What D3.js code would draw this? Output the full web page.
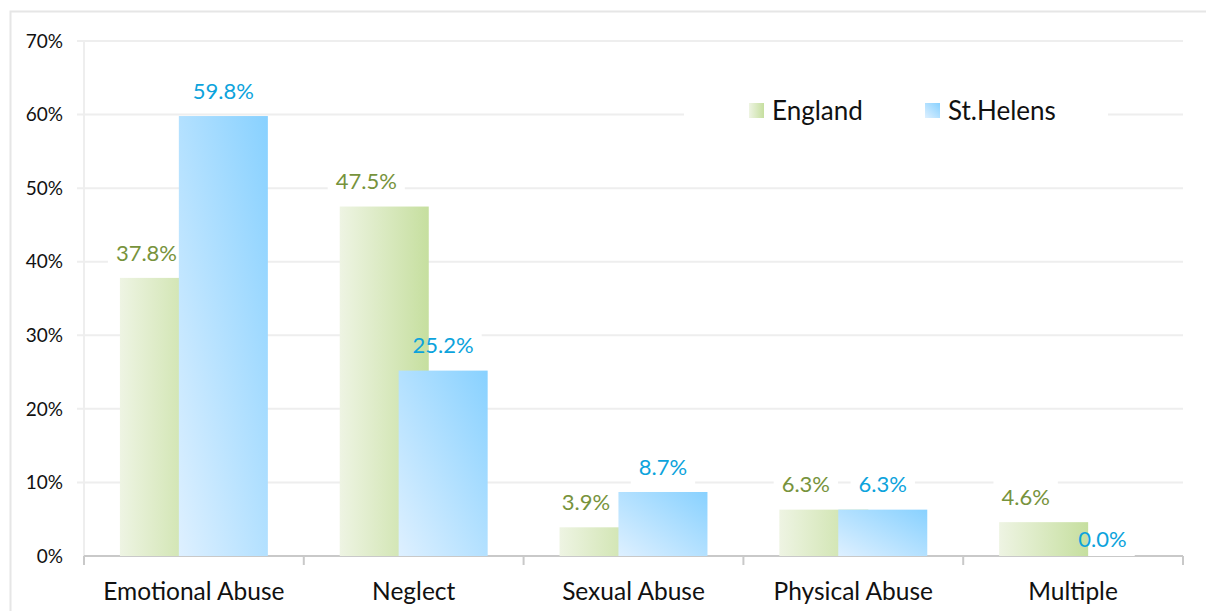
<!DOCTYPE html>
<html>
<head>
<meta charset="utf-8">
<script src="https://cdn.jsdelivr.net/npm/d3@7/dist/d3.min.js"></script>
<style>
  html, body { margin: 0; padding: 0; background: #fff; }
  svg { display: block; font-family: Lato, "Open Sans", sans-serif; }
</style>
</head>
<body>
<svg id="chart" width="1206" height="611"></svg>
<script>
// Share of child protection plans by category of abuse
const categories = ["Emotional Abuse", "Neglect", "Sexual Abuse", "Physical Abuse", "Multiple"];
const seriesNames = ["England", "St.Helens"];
const england = [0.378, 0.475, 0.039, 0.063, 0.046];
const stHelens = [0.598, 0.252, 0.087, 0.063, 0.000];
const yTicks = [0, 0.1, 0.2, 0.3, 0.4, 0.5, 0.6, 0.7];

const W = 1206, H = 611;
const margin = { left: 84, right: 23, top: 41, bottom: 55 };
const svg = d3.select("#chart");

const x = d3.scaleBand().domain(categories).range([margin.left, W - margin.right]).padding(0);
const y = d3.scaleLinear().domain([0, 0.7]).range([H - margin.bottom, margin.top]);
const bw = x.bandwidth();
const barW = bw * 0.405;
const shift = bw * 0.134;   // bars overlap around the category centre
const pct = d3.format(".1%");

const defs = svg.append("defs");
const gEng = defs.append("linearGradient").attr("id", "gEng")
  .attr("x1", 0).attr("y1", 0).attr("x2", 1).attr("y2", 0);
gEng.append("stop").attr("offset", 0).attr("stop-color", "#eef4e3");
gEng.append("stop").attr("offset", 1).attr("stop-color", "#c6df9f");
const gStH = defs.append("linearGradient").attr("id", "gStH")
  .attr("x1", 0).attr("y1", 1).attr("x2", 1).attr("y2", 0);
gStH.append("stop").attr("offset", 0).attr("stop-color", "#def0ff");
gStH.append("stop").attr("offset", 1).attr("stop-color", "#88d1ff");

// outer chart frame
svg.append("rect").attr("x", 10.5).attr("y", 11.5).attr("width", W).attr("height", H)
  .attr("fill", "none").attr("stroke", "#e6e6e6").attr("stroke-width", 2);

// gridlines with short left ticks
svg.append("g").selectAll("line").data(yTicks.slice(1)).join("line")
  .attr("x1", margin.left - 7).attr("x2", W - margin.right)
  .attr("y1", d => y(d)).attr("y2", d => y(d))
  .attr("stroke", "#eeeeee").attr("stroke-width", 2);

// value axis line
svg.append("line").attr("x1", margin.left).attr("x2", margin.left)
  .attr("y1", y(0.7)).attr("y2", y(0))
  .attr("stroke", "#eeeeee").attr("stroke-width", 2);

// y tick labels
svg.append("g").selectAll("text").data(yTicks).join("text")
  .attr("x", 63).attr("y", d => y(d)).attr("dy", "0.35em")
  .attr("text-anchor", "end").attr("font-size", 19).attr("fill", "#111")
  .text(d => d3.format(".0%")(d));

// category axis
svg.append("line").attr("x1", margin.left).attr("x2", W - margin.right)
  .attr("y1", y(0)).attr("y2", y(0)).attr("stroke", "#c9c9c9").attr("stroke-width", 2);
const bounds = categories.map(c => x(c)).concat([W - margin.right]);
svg.append("g").selectAll("line").data(bounds).join("line")
  .attr("x1", d => d).attr("x2", d => d).attr("y1", y(0)).attr("y2", y(0) + 9)
  .attr("stroke", "#c9c9c9").attr("stroke-width", 2);
svg.append("g").selectAll("text").data(categories).join("text")
  .attr("x", c => x(c) + bw / 2).attr("y", y(0) + 35).attr("dy", "0.35em")
  .attr("text-anchor", "middle").attr("font-size", 24.5).attr("fill", "#111")
  .text(c => c);

const engX = c => x(c) + bw / 2 - shift - barW / 2;
const stX = c => x(c) + bw / 2 + shift - barW / 2;

// data label layers: white backing boxes sit under the bars, text above
const boxLayer = svg.append("g");
const barLayer = svg.append("g");
const textLayer = svg.append("g");

barLayer.append("g").selectAll("rect").data(categories).join("rect")
  .attr("x", c => engX(c)).attr("width", barW)
  .attr("y", (c, i) => y(england[i])).attr("height", (c, i) => y(0) - y(england[i]))
  .attr("fill", "url(#gEng)");
barLayer.append("g").selectAll("rect").data(categories).join("rect")
  .attr("x", c => stX(c)).attr("width", barW)
  .attr("y", (c, i) => y(stHelens[i])).attr("height", (c, i) => y(0) - y(stHelens[i]))
  .attr("fill", "url(#gStH)");

function labels(values, xf, dx, color) {
  values.forEach((v, i) => {
    const cx = xf(categories[i]) + barW / 2 + dx;
    const cy = y(v) - (v > 0 ? 25 : 17);
    const t = textLayer.append("text").attr("x", cx).attr("y", cy).attr("dy", "0.35em")
      .attr("text-anchor", "middle").attr("font-size", 22).attr("fill", color)
      .text(pct(v));
    const b = t.node().getBBox();
    boxLayer.append("rect").attr("x", b.x - 8).attr("y", cy - 17)
      .attr("width", b.width + 16).attr("height", 34).attr("fill", "#fff");
  });
}
labels(england, engX, -18, "#77933c");
labels(stHelens, stX, 0, "#0ca3dc");

// legend
const lg = svg.append("g");
lg.append("rect").attr("x", 684).attr("y", 95).attr("width", 424).attr("height", 32).attr("fill", "#fff");
const lx = [749, 925];
seriesNames.forEach((n, i) => {
  lg.append("rect").attr("x", lx[i]).attr("y", 103).attr("width", 15).attr("height", 15)
    .attr("fill", i === 0 ? "url(#gEng)" : "url(#gStH)");
  lg.append("text").attr("x", lx[i] + 23).attr("y", 111).attr("dy", "0.35em")
    .attr("font-size", 26).attr("fill", "#111").text(n);
});
</script>
</body>
</html>
